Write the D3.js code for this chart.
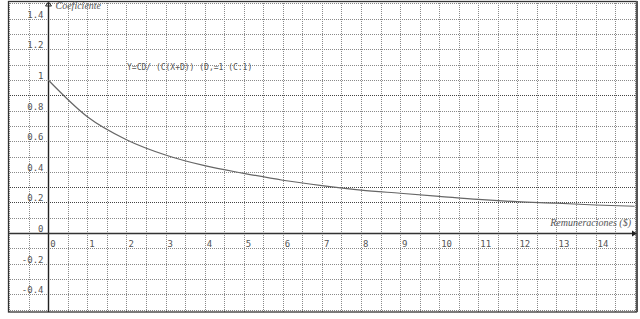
<!DOCTYPE html>
<html>
<head>
<meta charset="utf-8">
<script src="https://cdn.jsdelivr.net/npm/d3@7"></script>
<style>
  body { margin: 0; background: #fff; }
  .grid line { stroke: #8a8a8a; stroke-width: 1; stroke-dasharray: 1,1; }
  .grid line.dark { stroke: #444; }
  .tick-label { font-family: 'DejaVu Sans Mono', monospace; font-size: 9px; fill: #555; }
  .axis-title { font-family: 'Liberation Serif', serif; font-style: italic; font-size: 10px; fill: #555; }
  .formula { font-family: 'DejaVu Sans Mono', monospace; font-size: 8px; fill: #555; }
</style>
</head>
<body>
<div id="chart"></div>
<script>
// Values
const xValues = [0, 1, 2, 3, 4, 5, 6, 7, 8, 9, 10, 11, 12, 13, 14, 15];
const yValues = [1.0, 0.76, 0.61, 0.51, 0.44, 0.39, 0.345, 0.31, 0.28, 0.26, 0.24, 0.22, 0.205, 0.195, 0.183, 0.175];
const xTickLabels = ['0', '1', '2', '3', '4', '5', '6', '7', '8', '9', '10', '11', '12', '13', '14'];
const yTickLabels = ['1.4', '1.2', '1', '0.8', '0.6', '0.4', '0.2', '0', '-0.2', '-0.4'];
const yTickValues = [1.4, 1.2, 1, 0.8, 0.6, 0.4, 0.2, 0, -0.2, -0.4];
const darkRows = [0.9, 0.3, 0.2];

const width = 640, height = 319;

const svg = d3.select('#chart').append('svg')
    .attr('width', width)
    .attr('height', height);

// Scales: frame runs from x=8 to 637 and y=1 to 312
const x = d3.scaleLinear().domain([-1.03, 15.06]).range([8, 637]);
const y = d3.scaleLinear().domain([-0.516, 1.516]).range([312, 1]);

// Dotted grid, every 0.5 in x and 0.1 in y
const gridX = d3.range(-1, 15.01, 0.5);
const gridY = d3.range(-5, 16).map(d => d / 10);

const grid = svg.append('g').attr('class', 'grid');
grid.selectAll('.vline')
    .data(gridX)
  .join('line')
    .attr('class', 'vline')
    .attr('x1', d => Math.round(x(d)) + 0.5)
    .attr('x2', d => Math.round(x(d)) + 0.5)
    .attr('y1', 1)
    .attr('y2', 312);
grid.selectAll('.hline')
    .data(gridY)
  .join('line')
    .attr('class', d => darkRows.some(r => Math.abs(r - d) < 1e-6) ? 'hline dark' : 'hline')
    .attr('x1', 8)
    .attr('x2', 637)
    .attr('y1', d => Math.round(y(d)) + 0.5)
    .attr('y2', d => Math.round(y(d)) + 0.5);

// Outer frame
svg.append('rect')
    .attr('x', 8.5).attr('y', 1.5)
    .attr('width', 628).attr('height', 310.5)
    .attr('fill', 'none')
    .attr('stroke', '#333')
    .attr('stroke-width', 1.3);
svg.append('line')
    .attr('x1', 637).attr('x2', 637).attr('y1', 1).attr('y2', 312)
    .attr('stroke', '#555').attr('stroke-width', 2);

// Axes
const x0 = Math.round(x(0)) + 0.5, y0 = Math.round(y(0)) + 0.5;
svg.append('line')
    .attr('x1', x0).attr('x2', x0).attr('y1', 3).attr('y2', 312)
    .attr('stroke', '#222').attr('stroke-width', 1.4);
svg.append('line')
    .attr('x1', 8).attr('x2', 636).attr('y1', y0).attr('y2', y0)
    .attr('stroke', '#333').attr('stroke-width', 1.4);
// arrow heads
svg.append('path')
    .attr('d', `M${x0 - 3},${6} L${x0},${2} L${x0 + 3},${6}`)
    .attr('fill', 'none').attr('stroke', '#222');
svg.append('line')
    .attr('x1', x0 - 3).attr('x2', x0 + 3).attr('y1', 6).attr('y2', 6)
    .attr('stroke', '#222');
svg.append('path')
    .attr('d', `M${632},${y0 - 3} L${637},${y0} L${632},${y0 + 3} Z`)
    .attr('fill', '#222');

// Tick labels
svg.selectAll('.x-label')
    .data(xTickLabels)
  .join('text')
    .attr('class', 'tick-label x-label')
    .attr('x', (d, i) => x(i) + 2)
    .attr('y', y0 + 13)
    .text(d => d);

svg.selectAll('.y-label')
    .data(yTickLabels)
  .join('text')
    .attr('class', 'tick-label y-label')
    .attr('text-anchor', 'end')
    .attr('x', x0 - 5)
    .attr('y', (d, i) => y(yTickValues[i]) - 1)
    .text(d => d);

// Axis titles and formula
svg.append('text')
    .attr('class', 'axis-title')
    .attr('x', x0 + 7).attr('y', 9)
    .text('Coeficiente');
svg.append('text')
    .attr('class', 'axis-title')
    .attr('text-anchor', 'end')
    .attr('x', 631).attr('y', y0 - 8)
    .text('Remuneraciones ($)');
svg.append('text')
    .attr('class', 'formula')
    .attr('x', 127).attr('y', 70)
    .text('Y=CD/ (C(X+D))  (D,=1  (C:1)');

// The curve
const line = d3.line()
    .x(d => x(d[0]))
    .y(d => y(d[1]))
    .curve(d3.curveMonotoneX);

svg.append('path')
    .datum(d3.zip(xValues, yValues))
    .attr('d', line)
    .attr('fill', 'none')
    .attr('stroke', '#666')
    .attr('stroke-width', 1.2);
</script>
</body>
</html>
